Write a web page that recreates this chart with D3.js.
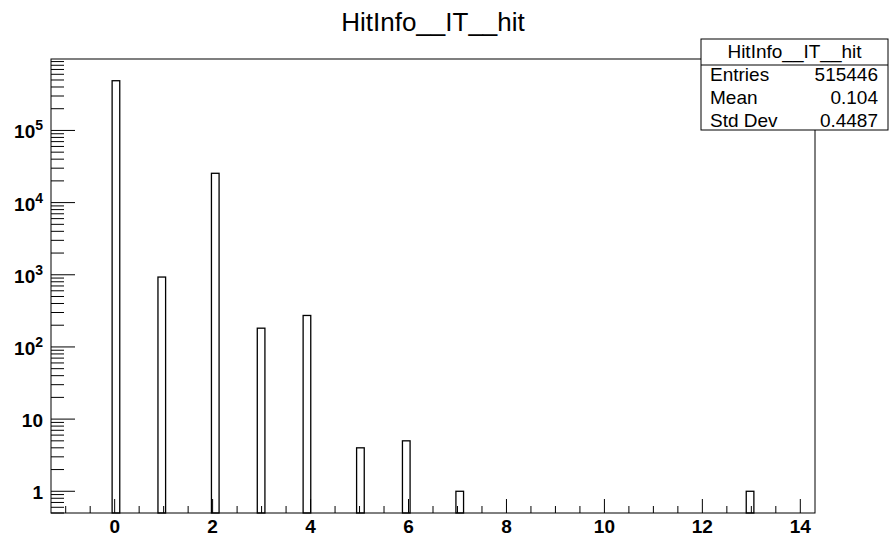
<!DOCTYPE html>
<meta charset="utf-8">
<title>HitInfo__IT__hit</title>
<style>
    body {
        margin: 0;
        background: #fff;
    }

    svg {
        display: block;
        font-family: "Liberation Sans", Arial, Helvetica, sans-serif;
    }

    .frame {
        fill: none;
        stroke: #000;
        stroke-width: 1px;
    }

    .bar {
        fill: #fff;
        stroke: #000;
        stroke-width: 1.3px;
    }

    .tick {
        stroke: #000;
        stroke-width: 1px;
    }

    .axisLabel {
        font-size: 19px;
        font-weight: bold;
        fill: #000;
    }

    .stats text {
        font-size: 19px;
        fill: #000;
    }
</style>

<body>
    <svg id="chart"></svg>
</body>

<script src="https://d3js.org/d3.v7.min.js"></script>
<script>
    // histogram content (entries per integer value)
    const hitValues = [0, 1, 2, 3, 4, 5, 6, 7, 13];
    const hitCounts = [488570, 930, 25480, 182, 273, 4, 5, 1, 1];

    // binning of the histogram axis
    const xMin = -1.3;
    const xMax = 14.3;
    const nBins = 100;

    const title = "HitInfo__IT__hit";
    const statsLabels = ["Entries", "Mean", "Std Dev"];
    const statsValues = ["515446", "0.104", "0.4487"];

    const xTickLabels = [0, 2, 4, 6, 8, 10, 12, 14];
    const yDecades = [1, 10, 100, 1000, 10000, 100000];

    var width = 889,
        height = 538;

    var frame = {
        left: 51,
        right: 815,
        top: 59,
        bottom: 513
    };

    var svg = d3.select("#chart")
        .attr("width", width)
        .attr("height", height);

    var x = d3.scaleLinear()
        .domain([xMin, xMax])
        .range([frame.left, frame.right]);

    // ROOT style log range: half of the smallest count up to twice the max
    var y = d3.scaleLog()
        .domain([0.5, d3.max(hitCounts) * 2])
        .range([frame.bottom, frame.top]);

    var binW = (xMax - xMin) / nBins;
    var bins = hitValues.map(function (v, i) {
        var b = Math.floor((v - xMin) / binW);
        return {
            lo: xMin + b * binW,
            hi: xMin + (b + 1) * binW,
            n: hitCounts[i]
        };
    });

    // bars
    svg.selectAll("rect.bar")
        .data(bins)
        .enter().append("rect")
        .attr("class", "bar")
        .attr("x", d => x(d.lo))
        .attr("width", d => x(d.hi) - x(d.lo))
        .attr("y", d => y(d.n))
        .attr("height", d => frame.bottom - y(d.n));

    // frame
    svg.append("rect")
        .attr("class", "frame")
        .attr("x", frame.left)
        .attr("y", frame.top)
        .attr("width", frame.right - frame.left)
        .attr("height", frame.bottom - frame.top);

    // x ticks: primary every 2, secondary every 0.5
    var xMinor = d3.range(-1, 14.01, 0.5);
    svg.selectAll("line.xtick")
        .data(xMinor)
        .enter().append("line")
        .attr("class", "tick")
        .attr("x1", d => x(d))
        .attr("x2", d => x(d))
        .attr("y1", frame.bottom)
        .attr("y2", d => frame.bottom - (d % 2 === 0 ? 14 : 7));

    svg.selectAll("text.xlab")
        .data(xTickLabels)
        .enter().append("text")
        .attr("class", "axisLabel")
        .attr("x", d => x(d))
        .attr("y", 533)
        .attr("text-anchor", "middle")
        .text(d => d);

    // y ticks: decades long, 2..9 short
    var yTop = y.domain()[1];
    var yMinor = [];
    for (var p = -1; p <= 5; p++) {
        for (var m = 1; m <= 9; m++) {
            var v = m * Math.pow(10, p);
            if (v >= 0.5 && v <= yTop) {
                yMinor.push(v);
            }
        }
    }
    svg.selectAll("line.ytick")
        .data(yMinor)
        .enter().append("line")
        .attr("class", "tick")
        .attr("x1", frame.left)
        .attr("x2", d => frame.left + (yDecades.indexOf(d) >= 0 ? 24 : 13))
        .attr("y1", d => y(d))
        .attr("y2", d => y(d));

    var ylab = svg.selectAll("text.ylab")
        .data(yDecades)
        .enter().append("text")
        .attr("class", "axisLabel")
        .attr("x", 43)
        .attr("y", d => y(d) + 8)
        .attr("text-anchor", "end");

    ylab.each(function (d) {
        var t = d3.select(this);
        var e = Math.round(Math.log10(d));
        if (e < 2) {
            t.text(d);
        } else {
            t.append("tspan").text("10");
            t.append("tspan")
                .attr("dy", -8)
                .style("font-size", "14px")
                .text(e);
        }
    });

    // title
    svg.append("text")
        .attr("x", 433)
        .attr("y", 31)
        .attr("text-anchor", "middle")
        .style("font-size", "26px")
        .text(title);

    // stats box
    var stats = svg.append("g").attr("class", "stats");
    var box = { x: 701, y: 39, w: 187, h: 91, head: 26 };

    stats.append("rect")
        .attr("x", box.x)
        .attr("y", box.y)
        .attr("width", box.w)
        .attr("height", box.h)
        .attr("fill", "#fff")
        .attr("stroke", "#000");

    stats.append("line")
        .attr("x1", box.x)
        .attr("x2", box.x + box.w)
        .attr("y1", box.y + box.head)
        .attr("y2", box.y + box.head)
        .attr("stroke", "#000");

    stats.append("text")
        .attr("x", box.x + box.w / 2)
        .attr("y", 58)
        .attr("text-anchor", "middle")
        .text(title);

    stats.selectAll("text.slab")
        .data(statsLabels)
        .enter().append("text")
        .attr("x", 710)
        .attr("y", (d, i) => 81 + i * 23)
        .text(d => d);

    stats.selectAll("text.sval")
        .data(statsValues)
        .enter().append("text")
        .attr("x", 878)
        .attr("y", (d, i) => 81 + i * 23)
        .attr("text-anchor", "end")
        .text(d => d);
</script>
